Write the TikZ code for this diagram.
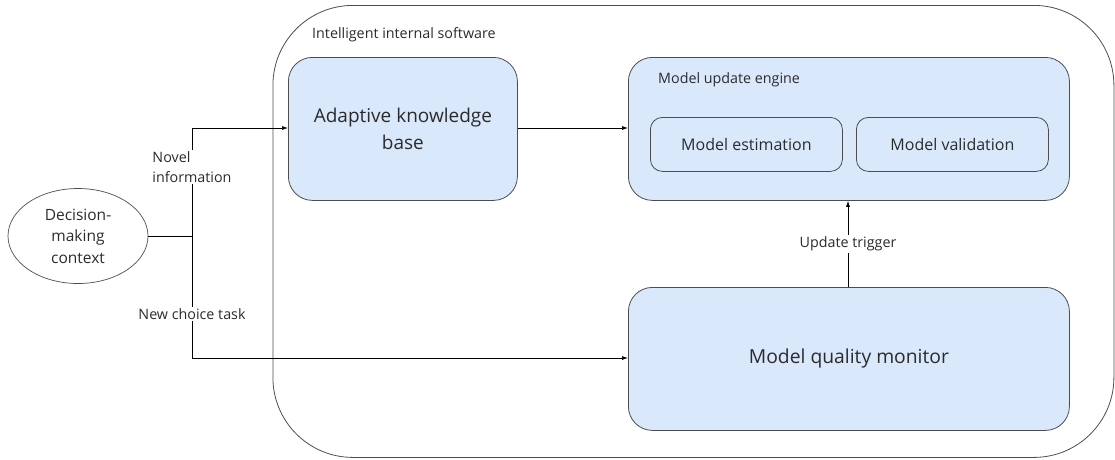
\documentclass[tikz,border=0pt]{standalone}
\usepackage{fontspec}
\setmainfont{Open Sans}
\usetikzlibrary{shapes.geometric,arrows.meta}
\definecolor{boxfill}{HTML}{DAE8FC}
\definecolor{edge}{HTML}{4D4D4D}
\definecolor{ink}{HTML}{2B2B2B}
\tikzset{
  block/.style={draw=edge, fill=boxfill, rounded corners=24pt, line width=0.8pt,
    text=ink, align=center, inner sep=0pt},
  subblock/.style={draw=edge, fill=boxfill, rounded corners=12pt, line width=0.8pt,
    text=ink, inner sep=0pt},
  frame/.style={draw=edge, rounded corners=80pt, line width=0.8pt, inner sep=0pt},
  flow/.style={draw=black, line width=0.7pt, -{Latex[length=6pt,width=4pt]}},
  wire/.style={draw=black, line width=0.7pt},
  lbl/.style={font=\fontsize{14.3}{20}\selectfont, text=ink, fill=white, inner sep=1.5pt},
  titletext/.style={font=\fontsize{14.3}{18}\selectfont, text=ink, anchor=west, inner sep=0pt},
}
\begin{document}
\begin{tikzpicture}[x=1pt, y=-1pt]
\useasboundingbox (0,0) rectangle (1115,459);

% outer software boundary
\node[frame, minimum width=841pt, minimum height=452pt, anchor=north west] (sw) at (272.5,5) {};
\node[titletext] (swlbl) at (312,35) {Intelligent internal software};

% knowledge base
\node[block, minimum width=229pt, minimum height=143pt, anchor=north west,
  font=\fontsize{19}{27}\selectfont] (akb) at (288,57) {Adaptive knowledge\\base};

% update engine with its two parts
\node[block, minimum width=441pt, minimum height=143pt, anchor=north west] (mue) at (628,57) {};
\node[titletext] (muelbl) at (658,80) {Model update engine};
\node[subblock, minimum width=192pt, minimum height=54pt, anchor=north west,
  font=\fontsize{16}{19}\selectfont] (mest) at (650,117) {Model estimation};
\node[subblock, minimum width=192pt, minimum height=54pt, anchor=north west,
  font=\fontsize{16}{19}\selectfont] (mval) at (856,117) {Model validation};

% quality monitor
\node[block, minimum width=441pt, minimum height=143pt, anchor=north west,
  font=\fontsize{19.3}{23}\selectfont] (mqm) at (628,287) {Model quality monitor};

% decision-making context
\node[ellipse, draw=edge, line width=0.7pt, minimum width=140pt, minimum height=95pt,
  inner sep=0pt, align=center, text=ink, font=\fontsize{15.5}{21.5}\selectfont] (ctx) at (78,236)
  {Decision-\\making\\context};

% junction and branches
\coordinate (j) at (192,236);
\coordinate (jt) at (192,128);
\coordinate (jb) at (192,358);
\coordinate (tx) at (848,0);
\draw[wire] (ctx.east) -- (j);
\draw[flow] (j) -- (jt) -- (akb.west |- jt);
\draw[flow] (j) -- (jb) -- (mqm.west |- jb);
\node[lbl, align=left] (novel) at (192,167) {Novel\\information};
\node[lbl] (task) at (192,314) {New choice task};

\draw[flow] (akb.east |- jt) -- (mue.west |- jt);

\draw[flow] (tx |- mqm.north) -- (tx |- mue.south)
  node[lbl, pos=0.5] (trig) {Update trigger};
\end{tikzpicture}
\end{document}
